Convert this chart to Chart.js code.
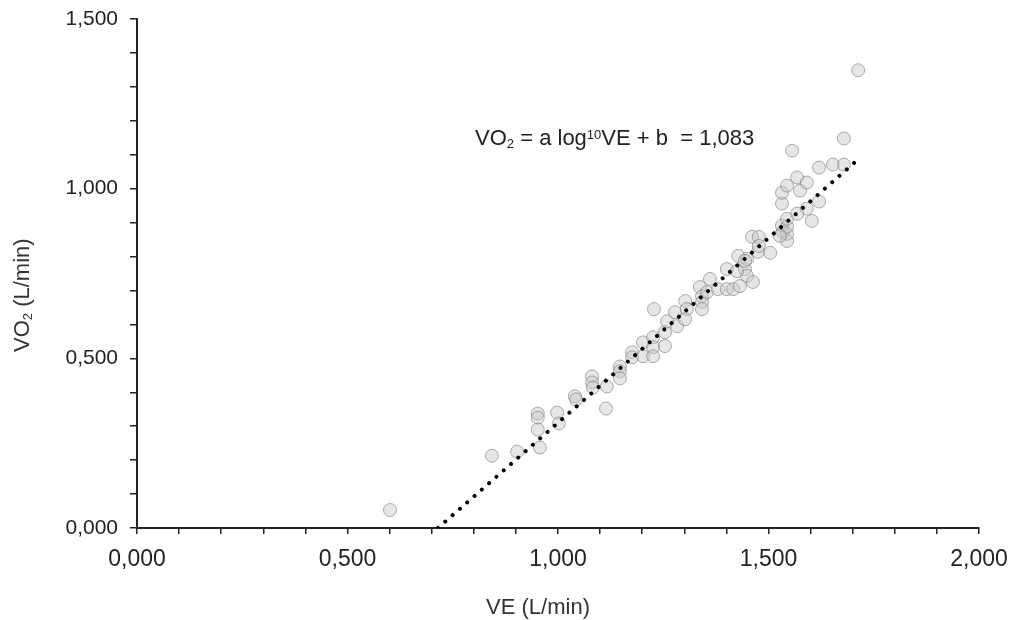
<!DOCTYPE html>
<html>
<head>
<meta charset="utf-8">
<script src="https://cdn.jsdelivr.net/npm/chart.js@4.4.1/dist/chart.umd.min.js"></script>
<style>
  html, body { margin: 0; padding: 0; background: #fff; }
  #wrap { width: 1015px; height: 620px; position: relative; }
</style>
</head>
<body>
<div id="wrap"><canvas id="chart"></canvas></div>
<script>
// Valores (VE en L/min, VO2 en L/min)
const veValues = [
  0.601, 0.843, 0.903, 0.952, 0.952, 0.952, 0.957, 0.998, 1.002, 1.040,
  1.043, 1.114, 1.081, 1.081, 1.083, 1.116, 1.147, 1.147, 1.147, 1.176,
  1.176, 1.202, 1.202, 1.226, 1.226, 1.226, 1.228, 1.254, 1.254, 1.259,
  1.278, 1.283, 1.302, 1.306, 1.302, 1.337, 1.342, 1.342, 1.342, 1.361,
  1.354, 1.380, 1.401, 1.401, 1.416, 1.432, 1.428, 1.444, 1.449, 1.449,
  1.463, 1.461, 1.477, 1.475, 1.477, 1.504, 1.532, 1.534, 1.544, 1.544,
  1.544, 1.544, 1.527, 1.532, 1.532, 1.544, 1.568, 1.575, 1.591, 1.591,
  1.568, 1.603, 1.620, 1.620, 1.653, 1.679, 1.679, 1.556, 1.713, 1.444,
  1.425
];
const vo2Values = [
  0.053, 0.213, 0.225, 0.337, 0.325, 0.290, 0.237, 0.340, 0.308, 0.388,
  0.379, 0.352, 0.447, 0.429, 0.414, 0.417, 0.476, 0.462, 0.441, 0.518,
  0.503, 0.547, 0.506, 0.562, 0.533, 0.506, 0.645, 0.536, 0.577, 0.609,
  0.636, 0.595, 0.669, 0.645, 0.615, 0.710, 0.683, 0.666, 0.645, 0.734,
  0.695, 0.704, 0.763, 0.704, 0.704, 0.713, 0.802, 0.763, 0.743, 0.793,
  0.725, 0.858, 0.858, 0.814, 0.831, 0.811, 0.891, 0.873, 0.846, 0.867,
  0.888, 0.911, 0.861, 0.956, 0.988, 1.009, 1.033, 0.994, 1.018, 0.941,
  0.926, 0.905, 0.962, 1.062, 1.071, 1.071, 1.148, 1.112, 1.349, 0.787,
  0.757
];

// Línea de tendencia (extremos leídos)
const trendVe = [0.715, 1.71];
const trendVo2 = [0, 1.083];

// Marcas con etiqueta
const xTicks = [0, 0.5, 1, 1.5, 2];
const yTicks = [0, 0.5, 1, 1.5];

const FONT = "'Liberation Sans', Arial, Helvetica, sans-serif";
const textColor = '#222';
const axisColor = '#222';

const fmt = (v) => v.toFixed(3).replace('.', ',');
const isMajor = (list, v) => list.some(t => Math.abs(t - v) < 1e-6);

function drawRich(ctx, parts, x, y) {
  let cx = x;
  parts.forEach(p => {
    ctx.font = p.size + 'px ' + FONT;
    ctx.fillText(p.text, cx, y + (p.dy || 0));
    cx += ctx.measureText(p.text).width;
  });
}

// Textos: ecuación y títulos de ejes (con sub/superíndices)
const labelsPlugin = {
  id: 'labels',
  afterDraw(chart) {
    const ctx = chart.ctx;
    const { x, y } = chart.scales;
    ctx.save();
    ctx.fillStyle = textColor;
    ctx.textAlign = 'left';
    ctx.textBaseline = 'alphabetic';

    // ecuación
    const ex = x.getPixelForValue(0.803);
    const ey = y.getPixelForValue(1.13);
    drawRich(ctx, [
      { text: 'VO', size: 22 },
      { text: '2', size: 13, dy: 3 },
      { text: ' = a log', size: 22 },
      { text: '10', size: 13, dy: -6 },
      { text: 'VE + b  = 1,083', size: 22 },
    ], ex, ey);

    // título eje X
    ctx.fillStyle = '#333';
    ctx.font = '22px ' + FONT;
    ctx.textAlign = 'center';
    ctx.fillText('VE (L/min)', 538, 614);

    // título eje Y
    ctx.textAlign = 'left';
    ctx.translate(29, 352);
    ctx.rotate(-Math.PI / 2);
    drawRich(ctx, [
      { text: 'VO', size: 22 },
      { text: '2', size: 13, dy: 3 },
      { text: ' (L/min)', size: 22 },
    ], 0, 0);
    ctx.restore();
  }
};

const scatterPoints = veValues.map((v, i) => ({ x: v, y: vo2Values[i] }));
const trendPoints = trendVe.map((v, i) => ({ x: v, y: trendVo2[i] }));

new Chart(document.getElementById('chart'), {
  type: 'scatter',
  data: {
    datasets: [
      {
        label: 'Tendencia',
        data: trendPoints,
        showLine: true,
        pointRadius: 0,
        borderColor: '#000',
        borderWidth: 4,
        borderDash: [0.01, 9.7],
        borderCapStyle: 'round',
        order: 0,
      },
      {
        label: 'VO2',
        data: scatterPoints,
        pointRadius: 6.5,
        borderWidth: 1,
        backgroundColor: 'rgba(200,200,200,0.45)',
        borderColor: 'rgba(110,110,110,0.55)',
        order: 1,
      },
    ],
  },
  options: {
    responsive: true,
    maintainAspectRatio: false,
    animation: false,
    layout: { padding: { top: 19, right: 36, left: 0, bottom: 0 } },
    plugins: {
      legend: { display: false },
      tooltip: { enabled: false },
    },
    scales: {
      x: {
        type: 'linear',
        min: 0,
        max: 2,
        afterFit: (s) => { s.height = 92; s.paddingLeft = 0; s.paddingRight = 0; },
        border: { display: true, color: axisColor, width: 2 },
        grid: { display: true, drawOnChartArea: false, drawTicks: true, tickLength: 6, color: axisColor, lineWidth: 1.5 },
        ticks: {
          stepSize: 0.1,
          autoSkip: false,
          maxRotation: 0,
          padding: 12,
          color: textColor,
          font: { family: FONT, size: 23 },
          callback: (v) => isMajor(xTicks, v) ? fmt(v) : '',
        },
      },
      y: {
        type: 'linear',
        min: 0,
        max: 1.5,
        afterFit: (s) => { s.width = 137; s.paddingTop = 0; s.paddingBottom = 0; },
        border: { display: true, color: axisColor, width: 2 },
        grid: { display: true, drawOnChartArea: false, drawTicks: true, tickLength: 7, color: axisColor, lineWidth: 1.5 },
        ticks: {
          stepSize: 0.1,
          autoSkip: false,
          padding: 12,
          color: textColor,
          font: { family: FONT, size: 21 },
          callback: (v) => isMajor(yTicks, v) ? fmt(v) : '',
        },
      },
    },
  },
  plugins: [labelsPlugin],
});
</script>
</body>
</html>
